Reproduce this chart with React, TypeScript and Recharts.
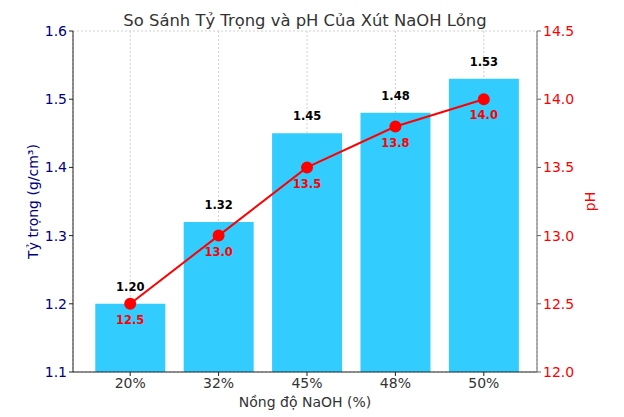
import { ComposedChart, Bar, Line, XAxis, YAxis, CartesianGrid, LabelList } from "recharts";

const nongDo = ["20%", "32%", "45%", "48%", "50%"];
const tyTrong = [1.2, 1.32, 1.45, 1.48, 1.53];
const phValues = [12.5, 13.0, 13.5, 13.8, 14.0];

const leftTicks = [1.1, 1.2, 1.3, 1.4, 1.5, 1.6];
const rightTicks = [12.0, 12.5, 13.0, 13.5, 14.0, 14.5];

const data = nongDo.map((c, i) => ({ name: c, tyTrong: tyTrong[i], ph: phValues[i] }));

const FONT = "DejaVu Sans, Verdana, sans-serif";

export default function App() {
  return (
    <div style={{ position: "absolute", left: 0, top: 0, width: 624, height: 417, background: "#fff", fontFamily: FONT }}>
      <div
        style={{
          position: "absolute",
          left: 73,
          width: 464,
          top: 11,
          textAlign: "center",
          fontSize: 16.4,
          color: "#333",
          fontFamily: FONT,
        }}
      >
        So Sánh Tỷ Trọng và pH Của Xút NaOH Lỏng
      </div>
      <ComposedChart width={624} height={417} data={data} margin={{ top: 31, right: 0, bottom: 0, left: 0 }} barCategoryGap="10.5%">
        <CartesianGrid stroke="#d0d0d0" strokeDasharray="2 2" />
        <XAxis
          dataKey="name"
          height={45}
          padding={{ left: 13, right: 9 }}
          tick={{ fontSize: 14, fill: "#333", fontFamily: FONT }}
          tickSize={4}
          stroke="#222"
          label={{ value: "Nồng độ NaOH (%)", position: "insideBottom", offset: 10, fontSize: 14, fill: "#333", fontFamily: FONT }}
        />
        <YAxis
          yAxisId="left"
          width={73}
          domain={[1.1, 1.6]}
          ticks={leftTicks}
          tickFormatter={(v: number) => v.toFixed(1)}
          tick={{ fontSize: 14, fill: "#000080", fontFamily: FONT }}
          tickSize={4}
          stroke="#222"
          label={{ value: "Tỷ trọng (g/cm³)", angle: -90, position: "center", dx: -3, fontSize: 14, fill: "#000080", fontFamily: FONT }}
        />
        <YAxis
          yAxisId="right"
          orientation="right"
          width={87}
          domain={[12, 14.5]}
          ticks={rightTicks}
          tickFormatter={(v: number) => v.toFixed(1)}
          tick={{ fontSize: 14, fill: "#ff0000", fontFamily: FONT }}
          tickSize={4}
          stroke="#666"
          label={{ value: "pH", angle: -90, position: "center", dx: 10, fontSize: 14, fill: "#ff0000", fontFamily: FONT }}
        />
        <Bar yAxisId="left" dataKey="tyTrong" fill="#33ccff" isAnimationActive={false}>
          <LabelList
            dataKey="tyTrong"
            position="top"
            offset={13}
            formatter={(v: any) => Number(v).toFixed(2)}
            style={{ fontSize: 11.5, fontWeight: "bold", fill: "#000", fontFamily: FONT }}
          />
        </Bar>
        <Line
          yAxisId="right"
          dataKey="ph"
          stroke="#ff0000"
          strokeWidth={2}
          dot={{ r: 5, fill: "#ff0000", stroke: "#ff0000" }}
          isAnimationActive={false}
        >
          <LabelList
            dataKey="ph"
            position="bottom"
            offset={12}
            formatter={(v: any) => Number(v).toFixed(1)}
            style={{ fontSize: 11.5, fontWeight: "bold", fill: "#ff0000", fontFamily: FONT }}
          />
        </Line>
      </ComposedChart>
    </div>
  );
}
